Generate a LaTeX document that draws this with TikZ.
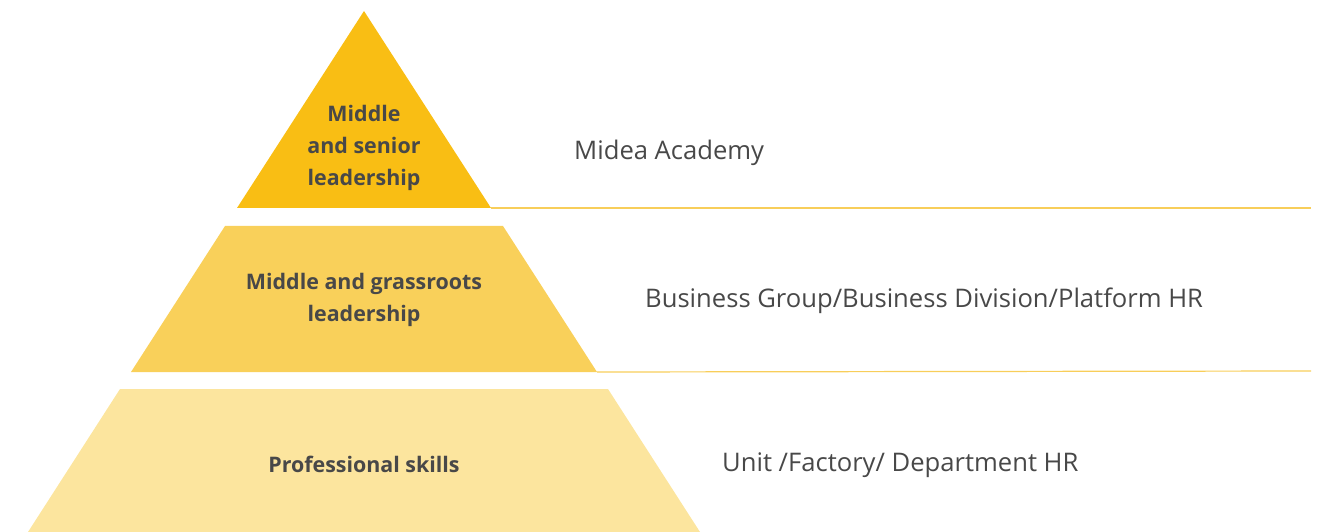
\documentclass[tikz,border=0pt]{standalone}
\usepackage{fontspec}
\setmainfont{Open Sans}
\usepackage{xcolor}
\definecolor{tiergold}{RGB}{249, 190, 20}
\definecolor{tiermid}{RGB}{249, 208, 90}
\definecolor{tierpale}{RGB}{252, 229, 158}
\definecolor{tierline}{RGB}{248, 206, 90}
\definecolor{tiertext}{RGB}{72, 72, 72}

\begin{document}
\begin{tikzpicture}[x=1bp, y=-1bp,
    tierlabel/.style={font=\bfseries\fontsize{21.5}{32}\selectfont, text=tiertext, align=center},
    sidelabel/.style={font=\fontsize{25.7}{28}\selectfont, text=tiertext, anchor=west, inner sep=0pt},
    tierrule/.style={draw=tierline, line width=1.2bp}]
                \useasboundingbox (0,0) rectangle (1325,532);

                % Top tier
                \fill[tiergold] (364,11) coordinate (apex) -- (491,208) coordinate (topR) -- (237,208) -- cycle;
                \node[tierlabel] (toplabel) at (364,148) {Middle\\and senior\\leadership};
                \coordinate (topend) at (1311,208);
                \draw[tierrule] (topR) -- (topend);
                \node[sidelabel] (academy) at (574,153) {Midea Academy};

                % Middle tier
                \fill[tiermid] (225,226) -- (503,226) -- (597,372) coordinate (midR) -- (131,372) -- cycle;
                \node[tierlabel] (midlabel) at (364,300) {Middle and grassroots\\leadership};
                \coordinate (midend) at (1311,371);
                \draw[tierrule] (midR) -- (midend);
                \node[sidelabel] (groups) at (645,301) {Business Group/Business Division/Platform HR};

                % Bottom tier
                \fill[tierpale] (120,389) -- (608,389) -- (700,532) -- (28,532) -- cycle;
                \node[tierlabel] (botlabel) at (364,464) {Professional skills};
                \node[sidelabel] (units) at (722,465) {Unit /Factory/ Department HR};
            \end{tikzpicture}
\end{document}
